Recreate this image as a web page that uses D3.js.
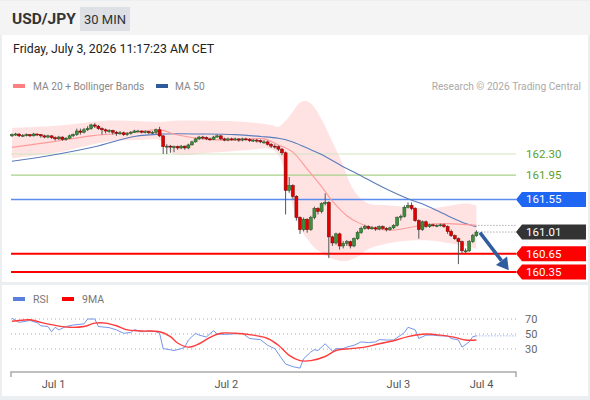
<!DOCTYPE html>
<html>
<head>
<meta charset="utf-8">
<script src="https://cdn.jsdelivr.net/npm/d3@7"></script>
<style>
  body { margin: 0; background: #ffffff; }
  text { font-family: Roboto, "Liberation Sans", Arial, sans-serif; }
</style>
</head>
<body>
<div id="container"></div>
<script>
// 30 min candles, bar 0 = Jun 30 evening, last bar = Jul 3 ~11:00
let closes = [
  162.62,162.63,162.60,162.61,162.62,162.60,162.63,162.62,162.60,162.58,
  162.60,162.57,162.55,162.58,162.54,162.56,162.60,162.62,162.68,162.66,
  162.70,162.72,162.78,162.76,162.72,162.70,162.68,162.69,162.66,162.64,
  162.65,162.62,162.64,162.66,162.68,162.68,162.66,162.67,162.65,162.66,
  162.70,162.60,162.42,162.43,162.42,162.42,162.40,162.43,162.40,162.45,
  162.50,162.55,162.58,162.57,162.55,162.54,162.58,162.60,162.55,162.53,
  162.55,162.54,162.55,162.53,162.55,162.54,162.52,162.53,162.52,162.50,
  162.50,162.46,162.43,162.42,162.38,162.32,161.70,161.78,161.60,161.25,
  161.05,161.22,161.05,161.25,161.40,161.35,161.48,161.50,160.93,160.83,
  160.98,160.78,160.82,160.85,160.78,160.90,161.00,161.07,161.10,161.07,
  161.08,161.06,161.10,161.07,161.05,161.08,161.12,161.25,161.27,161.42,
  161.45,161.40,161.20,161.05,161.18,161.10,161.13,161.12,161.12,161.13,
  161.10,161.02,160.95,160.90,160.85,160.70,160.70,160.85,160.95,161.01
];
let firstOpen = 162.60;
let highs = [
  162.64,162.65,162.64,162.63,162.64,162.63,162.65,162.64,162.63,162.62,
  162.62,162.61,162.59,162.60,162.59,162.58,162.62,162.64,162.72,162.72,
  162.73,162.76,162.80,162.81,162.78,162.74,162.72,162.71,162.70,162.68,
  162.68,162.67,162.66,162.68,162.70,162.70,162.69,162.69,162.68,162.68,
  162.72,162.75,162.61,162.46,162.45,162.44,162.44,162.45,162.44,162.47,
  162.52,162.57,162.60,162.60,162.59,162.57,162.60,162.62,162.61,162.57,
  162.57,162.57,162.57,162.56,162.57,162.57,162.56,162.55,162.55,162.54,
  162.53,162.52,162.48,162.46,162.44,162.40,162.34,161.92,161.80,161.62,
  161.27,161.25,161.24,161.28,161.43,161.42,161.50,161.65,161.52,160.95,
  161.00,161.00,160.86,160.88,160.87,160.92,161.03,161.10,161.13,161.12,
  161.11,161.10,161.12,161.12,161.09,161.10,161.14,161.27,161.30,161.45,
  161.50,161.50,161.42,161.22,161.20,161.20,161.15,161.15,161.14,161.15,
  161.15,161.12,161.05,160.97,160.92,160.87,160.74,160.88,160.98,161.04
];
let lows = [
  162.58,162.60,162.58,162.58,162.59,162.58,162.59,162.60,162.57,162.56,
  162.56,162.55,162.52,162.53,162.52,162.52,162.55,162.58,162.60,162.62,
  162.64,162.68,162.70,162.73,162.70,162.62,162.64,162.65,162.62,162.60,
  162.62,162.60,162.60,162.62,162.65,162.66,162.64,162.64,162.63,162.63,
  162.63,162.58,162.30,162.30,162.32,162.33,162.37,162.38,162.37,162.38,
  162.44,162.49,162.53,162.54,162.53,162.52,162.53,162.57,162.53,162.51,
  162.51,162.52,162.52,162.50,162.51,162.52,162.50,162.50,162.49,162.48,
  162.47,162.44,162.40,162.39,162.35,162.28,161.30,161.66,161.56,161.20,
  160.98,161.02,161.00,161.03,161.22,161.30,161.32,161.45,160.58,160.78,
  160.80,160.72,160.74,160.78,160.74,160.76,160.88,160.98,161.05,161.05,
  161.05,161.03,161.04,161.05,161.02,161.03,161.06,161.10,161.20,161.25,
  161.40,161.37,161.18,160.90,161.03,161.08,161.08,161.10,161.09,161.10,
  161.08,160.98,160.93,160.88,160.48,160.66,160.66,160.68,160.83,160.93
];

// indicator lines at these bars
let ma20Bars = [0,11,22,34,40,42,45,53,62,70,74,78,82,86,89,93,96,99,105,110,116,121,129];
let ma20Vals = [162.41,162.50,162.60,162.66,162.70,162.69,162.63,162.55,162.53,162.55,162.45,162.33,162.05,161.76,161.52,161.28,161.17,161.10,161.04,161.08,161.14,161.15,161.12];

let ma50Bars = [0,11,23,34,42,53,62,69,74,78,83,87,92,96,103,110,115,121,126,129];
let ma50Vals = [162.18,162.28,162.42,162.59,162.63,162.63,162.62,162.59,162.56,162.50,162.37,162.26,162.09,161.97,161.75,161.56,161.45,161.28,161.15,161.10];

let bandBars  = [0,13,26,36,41,45,55,65,72,74,76,78,80,82,84,86,89,92,94,96,99,105,111,116,122,126,129];
let bandUpper = [162.73,162.77,162.85,162.84,162.83,162.85,162.85,162.83,162.78,162.75,162.85,163.00,163.15,163.17,163.07,162.87,162.50,162.12,161.80,161.62,161.48,161.45,161.42,161.40,161.45,161.48,161.45];
let bandLower = [162.23,162.33,162.50,162.53,162.53,162.30,162.32,162.36,162.38,162.28,161.95,161.45,161.07,160.90,160.75,160.67,160.57,160.53,160.55,160.60,160.73,160.83,160.87,160.87,160.82,160.78,160.73];

let rsiBars = [0,2,5,7,8,10,11,12,13,15,17,20,21,23,24,27,29,31,33,34,36,38,40,41,42,44,45,47,48,49,51,52,54,56,57,59,61,64,66,69,71,73,74,76,78,80,81,83,84,85,87,89,90,92,93,95,97,99,101,102,104,106,108,109,110,112,113,115,117,119,121,122,124,125,127,128,129];
let rsiVals = [71,65.5,68,65,61,60,53,59,55.5,60,62,63.5,70,70,60,58.5,55.5,51,52,56,53,54,53,51,30.5,29,28,30.5,32.5,42,51,48.5,46,54.5,50,49.5,50,51,44,42.5,35,30.5,23.5,10,6.5,4.5,17,26,29,28,37,27,30.5,30.5,32.5,35,39.5,38.5,39.5,42.5,42,42,48.5,52,59,55.5,44,48.5,48.5,47.5,47.5,44,42,32.5,39.5,46.5,47.5];

let rsiMaBars = [0,5,8,12,16,20,23,26,29,32,36,41,44,46,49,52,55,58,62,67,71,74,77,80,83,87,90,94,98,102,106,110,115,119,123,126,129];
let rsiMaVals = [67,69,65.5,61.5,59,60,64.5,64.5,61,55.5,54,53,46.5,38,32.5,37,45.5,51,51,48.5,44,35,21.5,14.5,14.5,20,28,30.5,32.5,37,41,46.5,50,48.5,45.5,42,42];

let rsiLevels = [70,50,30];

let levelVals   = [162.30,161.95,161.55,161.01,160.65,160.35];
let levelLines  = ["#cfe6c0","#a8d08a","#5b8cef",null,"#ff0000","#ff0000"];
let levelBoxes  = [null,null,"#1f66f2","#333333","#ff0000","#ff0000"];

let dayLabels = ["Jul 1","Jul 2","Jul 3","Jul 4"];
let dayBars   = [11.4,59.4,107.2,130.3];

let arrowFrom = [130,161.00];
let arrowTo   = [138,160.38];

let w = 590;
let h = 400;

let viz = d3.select("#container")
  .append("svg")
    .attr("width", w)
    .attr("height", h)
;

// frame and panels
viz.append("rect").attr("width", w).attr("height", h).attr("fill", "#eceff2");
viz.append("rect").attr("x", 0).attr("y", 1).attr("width", w).attr("height", 34).attr("fill", "#f4f4f4");
viz.append("rect").attr("x", 2).attr("y", 35).attr("width", 586).attr("height", 247).attr("fill", "white");
viz.append("rect").attr("x", 2).attr("y", 285).attr("width", 586).attr("height", 111).attr("fill", "white");

// header
viz.append("text").attr("x", 12).attr("y", 24).text("USD/JPY")
  .style("font-size", "15.5px").style("font-weight", "bold").attr("fill", "#333");
viz.append("rect").attr("x", 80).attr("y", 7).attr("width", 50).attr("height", 24).attr("fill", "#dde0e5");
viz.append("text").attr("x", 105).attr("y", 24).attr("text-anchor", "middle").text("30 MIN")
  .style("font-size", "13px").attr("fill", "#333");
viz.append("text").attr("x", 13).attr("y", 53).text("Friday, July 3, 2026 11:17:23 AM CET")
  .style("font-size", "12.3px").attr("fill", "#222");

// legend
viz.append("rect").attr("x", 13).attr("y", 84).attr("width", 12).attr("height", 4).attr("fill", "#ff8080");
viz.append("text").attr("x", 33).attr("y", 90).text("MA 20 + Bollinger Bands")
  .style("font-size", "10.2px").attr("fill", "#888");
viz.append("rect").attr("x", 156).attr("y", 84).attr("width", 12).attr("height", 4).attr("fill", "#2f5b9c");
viz.append("text").attr("x", 175).attr("y", 90).text("MA 50")
  .style("font-size", "10.2px").attr("fill", "#888");
viz.append("text").attr("x", 581).attr("y", 90).attr("text-anchor", "end").text("Research © 2026 Trading Central")
  .style("font-size", "10.2px").attr("fill", "#aaa");

// scales
let xScale = d3.scaleLinear().domain([0, 140]).range([12, 516]);
let yScale = d3.scaleLinear().domain([160.35, 162.30]).range([272, 154]);
let rsiScale = d3.scaleLinear().domain([0, 100]).range([371.5, 296.5]);

let bars = closes.map((c,i)=>{
  let o = (i == 0) ? firstOpen : closes[i-1];
  return {i:i, o:o, c:c, h:highs[i], l:lows[i]};
});

// bollinger band fill
let band = bandBars.map((b,k)=>{ return {b:b, u:bandUpper[k], d:bandLower[k]}; });
viz.append("path")
  .datum(band)
  .attr("fill", "#ffe3e3")
  .attr("d", d3.area()
    .x(d=>xScale(d.b))
    .y0(d=>yScale(d.d))
    .y1(d=>yScale(d.u))
    .curve(d3.curveCatmullRom))
;

// level lines
levelVals.forEach((v,k)=>{
  if (levelLines[k] == null) return;
  viz.append("line")
    .attr("x1", 11).attr("x2", 516)
    .attr("y1", yScale(v)).attr("y2", yScale(v))
    .attr("stroke", levelLines[k])
    .attr("stroke-width", levelLines[k] == "#ff0000" ? 2 : (k == 2 ? 1.5 : 1.2))
  ;
});

// moving averages
let lineGen = d3.line().x(d=>xScale(d[0])).y(d=>yScale(d[1])).curve(d3.curveCatmullRom);
viz.append("path")
  .datum(ma50Bars.map((b,k)=>[b, ma50Vals[k]]))
  .attr("fill", "none").attr("stroke", "#5b7cbc").attr("stroke-width", 1.1)
  .attr("d", lineGen);
viz.append("path")
  .datum(ma20Bars.map((b,k)=>[b, ma20Vals[k]]))
  .attr("fill", "none").attr("stroke", "#ff9a9a").attr("stroke-width", 1.1)
  .attr("d", lineGen);

// projection dots
let lastBar = closes.length - 1;
viz.append("line")
  .attr("x1", xScale(lastBar) + 2).attr("x2", 516)
  .attr("y1", yScale(ma20Vals[ma20Vals.length-1])).attr("y2", yScale(ma20Vals[ma20Vals.length-1]))
  .attr("stroke", "#888").attr("stroke-dasharray", "1,2");
viz.append("line")
  .attr("x1", xScale(lastBar) + 2).attr("x2", 516)
  .attr("y1", yScale(closes[lastBar])).attr("y2", yScale(closes[lastBar]))
  .attr("stroke", "#888").attr("stroke-dasharray", "1,2");

// candles
let candles = viz.selectAll(".candle").data(bars).enter()
  .append("g")
    .attr("class", "candle")
;
candles.append("line")
  .attr("x1", d=>xScale(d.i)).attr("x2", d=>xScale(d.i))
  .attr("y1", d=>yScale(d.h)).attr("y2", d=>yScale(d.l))
  .attr("stroke", "#555").attr("stroke-width", 1)
;
candles.append("rect")
  .attr("x", d=>xScale(d.i) - 1.5)
  .attr("width", 3)
  .attr("y", d=>yScale(Math.max(d.o, d.c)))
  .attr("height", d=>Math.max(1, Math.abs(yScale(d.o) - yScale(d.c))))
  .attr("fill", d=>(d.c >= d.o) ? "#3f8f3f" : "#e00000")
  .attr("stroke", d=>(d.c >= d.o) ? "#1f4f1f" : "#7a0000")
  .attr("stroke-width", 0.5)
;

// price labels
levelVals.forEach((v,k)=>{
  let y = yScale(v);
  if (levelBoxes[k] != null) {
    viz.append("path")
      .attr("d", "M516," + y + "L522," + (y-7.5) + "L586," + (y-7.5) + "L586," + (y+7.5) + "L522," + (y+7.5) + "Z")
      .attr("fill", levelBoxes[k]);
  }
  viz.append("text")
    .attr("x", 526).attr("y", y + 4)
    .text(v.toFixed(2))
    .style("font-size", "11.5px")
    .attr("fill", levelBoxes[k] != null ? "white" : "#5aa02c")
  ;
});

// forecast arrow
let ax1 = xScale(arrowFrom[0]), ay1 = yScale(arrowFrom[1]);
let ax2 = xScale(arrowTo[0]), ay2 = yScale(arrowTo[1]);
let ang = Math.atan2(ay2 - ay1, ax2 - ax1);
let hl = 12, hw = 7;
let bx = ax2 - hl*Math.cos(ang), by = ay2 - hl*Math.sin(ang);
viz.append("line")
  .attr("x1", ax1).attr("y1", ay1).attr("x2", bx).attr("y2", by)
  .attr("stroke", "#2f5d9e").attr("stroke-width", 3.5);
viz.append("path")
  .attr("d", "M" + ax2 + "," + ay2 +
    "L" + (bx + hw*Math.sin(ang)) + "," + (by - hw*Math.cos(ang)) +
    "L" + (bx - hw*Math.sin(ang)) + "," + (by + hw*Math.cos(ang)) + "Z")
  .attr("fill", "#2f5d9e");

// RSI panel
viz.append("rect").attr("x", 13).attr("y", 297).attr("width", 12).attr("height", 4).attr("fill", "#5b7fdd");
viz.append("text").attr("x", 33).attr("y", 303).text("RSI").style("font-size", "10.5px").attr("fill", "#777");
viz.append("rect").attr("x", 62).attr("y", 297).attr("width", 12).attr("height", 4).attr("fill", "#ff0000");
viz.append("text").attr("x", 82).attr("y", 303).text("9MA").style("font-size", "10.5px").attr("fill", "#777");

rsiLevels.forEach(v=>{
  viz.append("line")
    .attr("x1", 11).attr("x2", 516)
    .attr("y1", rsiScale(v)).attr("y2", rsiScale(v))
    .attr("stroke", "#aaa").attr("stroke-dasharray", "1,3");
  viz.append("text")
    .attr("x", 525).attr("y", rsiScale(v) + 4)
    .text(v).style("font-size", "11px").attr("fill", "#666");
});

let rsiLine = d3.line().x(d=>xScale(d[0])).y(d=>rsiScale(d[1]));
viz.append("path")
  .datum(rsiBars.map((b,k)=>[b, rsiVals[k]]))
  .attr("fill", "none").attr("stroke", "#7595e8").attr("stroke-width", 1)
  .attr("d", rsiLine);
viz.append("path")
  .datum(rsiMaBars.map((b,k)=>[b, rsiMaVals[k]]))
  .attr("fill", "none").attr("stroke", "#ff3b3b").attr("stroke-width", 1.4)
  .attr("d", rsiLine.curve(d3.curveCatmullRom));
viz.append("line")
  .attr("x1", xScale(lastBar)).attr("x2", 516)
  .attr("y1", rsiScale(rsiVals[rsiVals.length-1])).attr("y2", rsiScale(rsiVals[rsiVals.length-1]))
  .attr("stroke", "#7595e8").attr("stroke-dasharray", "1,2");

// time axis
let xAxis = d3.axisBottom(xScale)
  .tickValues(dayBars)
  .tickFormat((d,i)=>dayLabels[i])
  .tickSize(0)
  .tickSizeOuter(5)
  .tickPadding(8)
;
let axisG = viz.append("g")
  .attr("transform", "translate(0,372)")
  .call(xAxis)
;
axisG.select(".domain").attr("stroke", "#aaa").attr("stroke-width", 1.5)
  .attr("d", "M11,5V0H516V5");
axisG.selectAll("text").style("font-size", "11px").attr("fill", "#555")
  .style("font-family", "Roboto, 'Liberation Sans', Arial, sans-serif");
</script>
</body>
</html>
